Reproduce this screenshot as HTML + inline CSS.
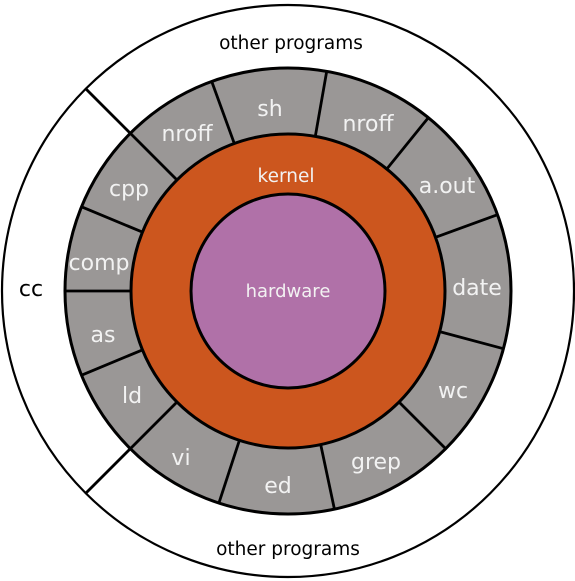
<!DOCTYPE html>
<html><head><meta charset="utf-8"><style>
html,body{margin:0;padding:0;background:#fff;}
svg{display:block;}
text{font-family:"DejaVu Sans","Liberation Sans",sans-serif;}
</style></head><body>
<svg width="575" height="581" viewBox="0 0 575 581" xmlns="http://www.w3.org/2000/svg">
<circle cx="288" cy="291" r="286" fill="#fff" stroke="#000" stroke-width="2.2"/>
<line x1="130" y1="133" x2="86" y2="89" stroke="#000" stroke-width="2.8"/>
<line x1="130" y1="449" x2="86" y2="493" stroke="#000" stroke-width="2.8"/>
<circle cx="288" cy="291" r="223" fill="#9a9796" stroke="#000" stroke-width="3"/>
<g stroke="#000" stroke-width="2.8">
<line x1="234.3" y1="143.5" x2="211.7" y2="81.4"/>
<line x1="315.3" y1="136.4" x2="326.7" y2="71.4"/>
<line x1="386.8" y1="169.0" x2="428.3" y2="117.7"/>
<line x1="435.5" y1="237.3" x2="497.5" y2="214.7"/>
<line x1="439.6" y1="331.6" x2="503.4" y2="348.7"/>
<line x1="399.0" y1="402.0" x2="445.7" y2="448.7"/>
<line x1="320.7" y1="444.6" x2="334.4" y2="509.1"/>
<line x1="239.4" y1="440.3" x2="218.9" y2="503.1"/>
<line x1="177.0" y1="402.0" x2="130.3" y2="448.7"/>
<line x1="142.7" y1="349.8" x2="82.2" y2="374.9"/>
<line x1="131" y1="291" x2="65" y2="291"/>
<line x1="142.7" y1="232.2" x2="82.2" y2="207.1"/>
<line x1="177.0" y1="180.0" x2="130.3" y2="133.3"/>
</g>
<circle cx="288" cy="291" r="157" fill="#cc561e" stroke="#000" stroke-width="3"/>
<circle cx="288" cy="291" r="97" fill="#b071a8" stroke="#000" stroke-width="3"/>
<g fill="#f2f2f2" style="font-size:22px" text-anchor="middle">
<text x="270" y="116">sh</text>
<text x="368" y="131">nroff</text>
<text x="447" y="193">a.out</text>
<text x="477" y="295">date</text>
<text x="453" y="398">wc</text>
<text x="376" y="469">grep</text>
<text x="278" y="493">ed</text>
<text x="181" y="465">vi</text>
<text x="132" y="403">ld</text>
<text x="103" y="342">as</text>
<text x="99" y="270">comp</text>
<text x="129" y="196">cpp</text>
<text x="187" y="141">nroff</text>
<text x="286" y="182" style="font-size:18.5px">kernel</text>
<text x="288" y="297" style="font-size:18px">hardware</text>
</g>
<g fill="#000" style="font-size:18.5px" text-anchor="middle">
<text x="291" y="49">other programs</text>
<text x="288" y="555">other programs</text>
<text x="31" y="296" style="font-size:22px">cc</text>
</g>
</svg>
</body></html>
